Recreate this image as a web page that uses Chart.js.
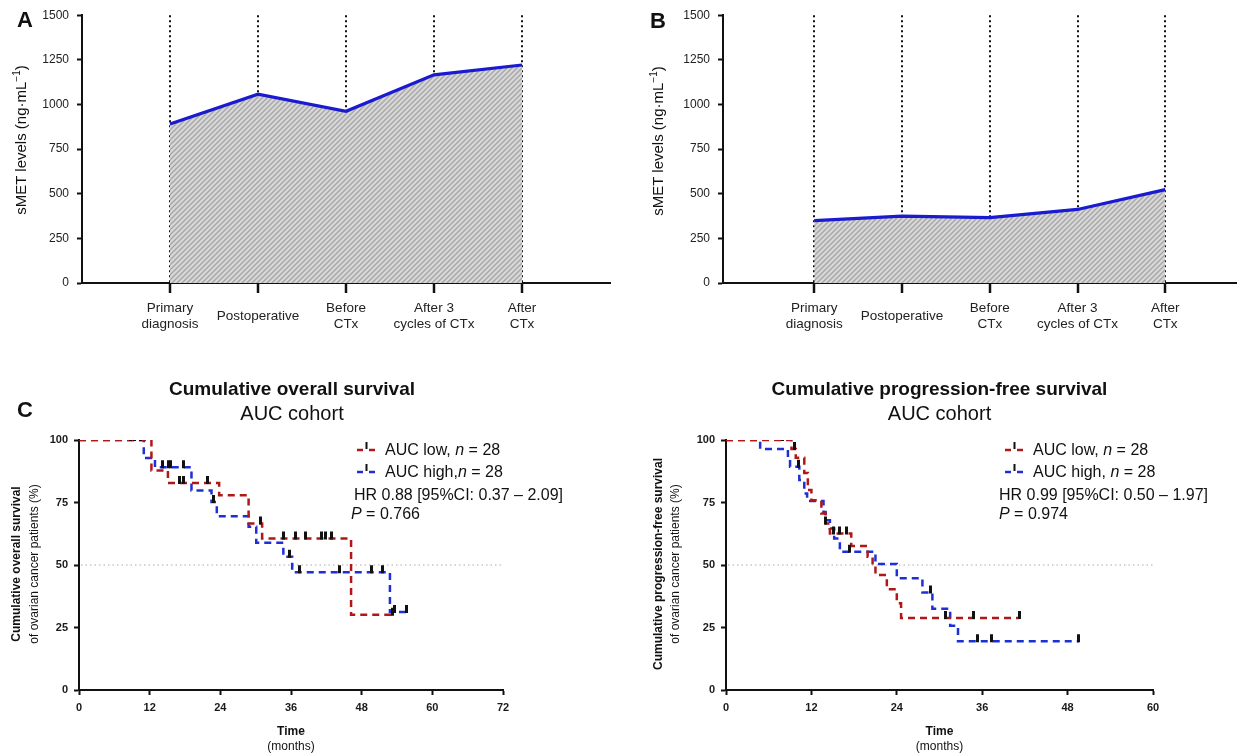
<!DOCTYPE html>
<html><head><meta charset="utf-8">
<script src="https://cdn.jsdelivr.net/npm/chart.js@4"></script>
<style>
html,body{margin:0;padding:0;background:#fff;overflow:hidden;width:1237px;height:755px;}
body{position:relative;font-family:"Liberation Sans",Arial,sans-serif;color:#111;}
canvas{position:absolute;}
.t{position:absolute;white-space:nowrap;line-height:1;}
</style></head><body>
<canvas id="cA" style="left:0;top:0" width="620" height="340"></canvas>
<canvas id="cB" style="left:620px;top:0" width="660" height="340"></canvas>
<canvas id="cC1" style="left:0;top:370px" width="620" height="385"></canvas>
<canvas id="cC2" style="left:620px;top:370px" width="617" height="385"></canvas>
<div id="txt"></div>
<script>
// ---------- DATA ----------
const timepoints = ['Primary diagnosis', 'Postoperative', 'Before CTx', 'After 3 cycles of CTx', 'After CTx'];
const timepointLabels = [['Primary','diagnosis'], 'Postoperative', ['Before','CTx'], ['After 3','cycles of CTx'], ['After','CTx']];
const smetA = [891, 1058, 962, 1166, 1221];
const smetB = [349, 375, 366, 412, 523];
const smetTicks = [0, 250, 500, 750, 1000, 1250, 1500];

const osLowTime  = [0, 12.3, 15.1, 23.8, 28.8, 31.1, 46.2, 53.2];
const osLowSurv  = [100, 87.8, 82.8, 77.9, 66.6, 60.6, 30.1, 30.1];
const osHighTime = [0, 11.0, 12.9, 19.1, 22.5, 23.4, 28.8, 30.1, 34.7, 36.2, 52.8, 55.6];
const osHighSurv = [100, 92.8, 89.1, 79.8, 75.2, 69.5, 65.3, 58.9, 53.3, 47.1, 31.2, 31.2];
const osLowCensTime  = [8.7, 10.4, 17.1, 17.7, 21.8, 30.8, 34.8, 36.8, 38.5, 41.2, 41.9, 42.9, 53.2];
const osLowCensSurv  = [100, 100, 82.8, 82.8, 82.8, 66.6, 60.6, 60.6, 60.6, 60.6, 60.6, 60.6, 30.1];
const osHighCensTime = [9.5, 14.1, 15.2, 15.6, 17.7, 22.8, 35.8, 37.5, 44.2, 49.6, 51.6, 53.5, 55.6];
const osHighCensSurv = [100, 89.1, 89.1, 89.1, 89.1, 75.2, 53.3, 47.1, 47.1, 47.1, 47.1, 31.2, 31.2];

const pfsLowTime  = [0, 9.2, 9.8, 11.0, 11.5, 12.0, 13.4, 14.0, 14.6, 17.6, 19.9, 20.6, 21.0, 22.6, 24.0, 24.6, 41.2];
const pfsLowSurv  = [100, 96.4, 92.9, 86.8, 80.0, 75.9, 70.6, 66.6, 62.6, 57.6, 53.3, 50.7, 46.0, 40.3, 34.7, 28.8, 28.8];
const pfsHighTime = [0, 4.8, 8.7, 9.0, 10.3, 11.0, 11.4, 13.7, 14.0, 14.6, 15.2, 16.0, 21.0, 24.0, 27.6, 29.0, 31.5, 32.6, 49.6];
const pfsHighSurv = [100, 96.4, 92.9, 89.3, 84.0, 78.6, 75.6, 71.2, 67.9, 64.6, 60.6, 55.3, 50.4, 44.7, 39.0, 32.5, 25.7, 19.5, 19.5];
const pfsLowCensTime  = [8.0, 9.6, 14.0, 15.1, 15.9, 17.0, 30.9, 34.8, 41.2];
const pfsLowCensSurv  = [100, 96.4, 66.6, 62.6, 62.6, 62.6, 28.8, 28.8, 28.8];
const pfsHighCensTime = [10.2, 17.4, 28.7, 35.4, 37.3, 49.6];
const pfsHighCensSurv = [89.3, 55.3, 39.0, 19.5, 19.5, 19.5];

const survTicks = [0, 25, 50, 75, 100];
const osMonthTicks = [0, 12, 24, 36, 48, 60, 72];
const pfsMonthTicks = [0, 12, 24, 36, 48, 60];
const medianRef = 50;

// ---------- STYLE ----------
const FONT = '"Liberation Sans", Arial, sans-serif';
const RED = '#b01818', BLUE = '#1f2fd8', LINEBLUE = '#1a1ad0';
Chart.defaults.font.family = FONT;
Chart.defaults.color = '#1a1a1a';

function hatch(ctx){
  const s = 5, c = document.createElement('canvas'); c.width = s; c.height = s;
  const g = c.getContext('2d');
  g.fillStyle = '#d8d8d8'; g.fillRect(0,0,s,s);
  g.strokeStyle = '#a6a6a6'; g.lineWidth = 1.4;
  g.beginPath();
  g.moveTo(0,s); g.lineTo(s,0);
  g.moveTo(-1,1); g.lineTo(1,-1);
  g.moveTo(s-1,s+1); g.lineTo(s+1,s-1);
  g.stroke();
  return ctx.createPattern(c,'repeat');
}
function censorMark(){
  const c = document.createElement('canvas'); c.width = 3; c.height = 18;
  const g = c.getContext('2d'); g.fillStyle = '#111'; g.fillRect(0,2,3,8);
  return c;
}
const CENS = censorMark();

const refLine = {
  id: 'refLine',
  beforeDatasetsDraw(chart, args, o){
    if (o.y == null) return;
    const {ctx, chartArea: a, scales: {y}} = chart;
    const py = y.getPixelForValue(o.y);
    ctx.save(); ctx.strokeStyle = '#c8c8c8'; ctx.lineWidth = 1.5; ctx.setLineDash([1.5, 3]);
    ctx.beginPath(); ctx.moveTo(a.left + 2, py); ctx.lineTo(a.right, py); ctx.stroke(); ctx.restore();
  }
};
const legendMarks = {
  id: 'legendMarks',
  afterDraw(chart, args, o){
    if (!o.items) return;
    const ctx = chart.ctx;
    o.items.forEach(it => {
      ctx.save();
      ctx.strokeStyle = it.color; ctx.lineWidth = 2.5; ctx.setLineDash([6, 6]);
      ctx.beginPath(); ctx.moveTo(it.x1, it.y); ctx.lineTo(it.x2, it.y); ctx.stroke();
      ctx.setLineDash([]); ctx.strokeStyle = '#111'; ctx.lineWidth = 2;
      const mx = (it.x1 + it.x2) / 2;
      ctx.beginPath(); ctx.moveTo(mx, it.y - 8); ctx.lineTo(mx, it.y - 1); ctx.stroke();
      ctx.restore();
    });
  }
};

function fixSize(w, h){ return s => { if (w != null) s.width = w; if (h != null) s.height = h; }; }

function smetChart(id, values, yW, padRight, xMin){
  const ctx = document.getElementById(id).getContext('2d');
  return new Chart(ctx, {
    type: 'line',
    data: { datasets: [{
      data: values.map((v, i) => ({x: i + 1, y: v})),
      borderColor: LINEBLUE, borderWidth: 3.2, pointRadius: 0, tension: 0,
      fill: 'origin', backgroundColor: hatch(ctx)
    }]},
    options: {
      responsive: false, animation: false, devicePixelRatio: 1,
      layout: { padding: {left: 0, top: 14, right: padRight, bottom: 0} },
      plugins: { legend: {display: false}, tooltip: {enabled: false} },
      scales: {
        x: {
          type: 'linear', min: xMin, max: timepoints.length + 1,
          afterBuildTicks: s => { s.ticks = timepoints.map((t, i) => ({value: i + 1})); },
          afterFit: fixSize(null, 57),
          ticks: { autoSkip: false, maxRotation: 0, padding: 15, crossAlign: 'center',
                   font: {size: 13.5}, color: '#222',
                   callback: (v, i) => timepointLabels[i] },
          grid: { drawOnChartArea: true, color: '#111', lineWidth: 2,
                  drawTicks: true, tickLength: 10, tickWidth: 2.5, tickColor: '#111' },
          border: { display: true, color: '#111', width: 2, dash: [2, 3] }
        },
        y: {
          min: 0, max: 1500,
          afterBuildTicks: s => { s.ticks = smetTicks.map(v => ({value: v})); },
          afterFit: fixSize(yW, null),
          ticks: { padding: 8, font: {size: 12}, color: '#222', callback: v => String(v) },
          grid: { drawOnChartArea: false, drawTicks: true, tickLength: 5, tickWidth: 2, tickColor: '#111' },
          border: { display: true, color: '#111', width: 2 }
        }
      }
    }
  });
}

function kmChart(id, xMax, xTicks, sets, yW, padRight, legendItems){
  const ctx = document.getElementById(id).getContext('2d');
  const ds = [];
  sets.forEach(s => {
    ds.push({ data: s.t.map((t, i) => ({x: t, y: s.s[i]})), stepped: true,
              borderColor: s.color, borderWidth: 2.5, borderDash: [7, 5],
              pointRadius: 0, fill: false, order: 2 });
  });
  sets.forEach(s => {
    ds.push({ data: s.ct.map((t, i) => ({x: t, y: s.cs[i]})), showLine: false,
              pointStyle: CENS, pointRadius: 4, order: 1 });
  });
  return new Chart(ctx, {
    type: 'line',
    data: { datasets: ds },
    options: {
      responsive: false, animation: false, devicePixelRatio: 1,
      layout: { padding: {left: 0, top: 70, right: padRight, bottom: 0} },
      plugins: { legend: {display: false}, tooltip: {enabled: false},
                 refLine: {y: medianRef}, legendMarks: {items: legendItems} },
      scales: {
        x: {
          type: 'linear', min: 0, max: xMax,
          afterBuildTicks: s => { s.ticks = xTicks.map(v => ({value: v})); },
          afterFit: fixSize(null, 65),
          ticks: { padding: 6, font: {size: 11, weight: 'bold'}, color: '#1a1a1a' },
          grid: { drawOnChartArea: false, drawTicks: true, tickLength: 5, tickWidth: 2, tickColor: '#111' },
          border: { display: true, color: '#111', width: 2 }
        },
        y: {
          min: 0, max: 100,
          afterBuildTicks: s => { s.ticks = survTicks.map(v => ({value: v})); },
          afterFit: fixSize(yW, null),
          ticks: { padding: 6, font: {size: 11, weight: 'bold'}, color: '#1a1a1a' },
          grid: { drawOnChartArea: false, drawTicks: true, tickLength: 5, tickWidth: 2, tickColor: '#111' },
          border: { display: true, color: '#111', width: 2 }
        }
      }
    },
    plugins: [refLine, legendMarks]
  });
}

smetChart('cA', smetA, 82, 10, 0);
smetChart('cB', smetB, 103, 27, -0.04);

kmChart('cC1', 72, osMonthTicks, [
  {t: osLowTime, s: osLowSurv, ct: osLowCensTime, cs: osLowCensSurv, color: RED},
  {t: osHighTime, s: osHighSurv, ct: osHighCensTime, cs: osHighCensSurv, color: BLUE}
], 79, 117, [{x1: 357, x2: 376, y: 80, color: RED}, {x1: 357, x2: 376, y: 102, color: BLUE}]);

kmChart('cC2', 60, pfsMonthTicks, [
  {t: pfsLowTime, s: pfsLowSurv, ct: pfsLowCensTime, cs: pfsLowCensSurv, color: RED},
  {t: pfsHighTime, s: pfsHighSurv, ct: pfsHighCensTime, cs: pfsHighCensSurv, color: BLUE}
], 106, 84, [{x1: 385, x2: 404, y: 80, color: RED}, {x1: 385, x2: 404, y: 102, color: BLUE}]);

// ---------- TEXT ----------
const texts = [
  // [html, x, y, css, anchor('c' centre | 'l' left), rotate]
  ['A', 25, 20, 'font-weight:bold;font-size:22px', 'c', 0],
  ['B', 658, 21, 'font-weight:bold;font-size:22px', 'c', 0],
  ['C', 25, 410, 'font-weight:bold;font-size:22px', 'c', 0],
  ['sMET levels (ng·mL<sup style="font-size:10px;vertical-align:6px">−1</sup>)', 20, 140, 'font-size:15px', 'c', -90],
  ['sMET levels (ng·mL<sup style="font-size:10px;vertical-align:6px">−1</sup>)', 657, 141, 'font-size:15px', 'c', -90],
  ['Cumulative overall survival', 292, 388, 'font-weight:bold;font-size:19px', 'c', 0],
  ['AUC cohort', 292, 413, 'font-size:20px', 'c', 0],
  ['Cumulative progression-free survival', 939.5, 388, 'font-weight:bold;font-size:19px', 'c', 0],
  ['AUC cohort', 939.5, 413, 'font-size:20px', 'c', 0],
  ['Cumulative overall survival', 16, 564, 'font-weight:bold;font-size:12px', 'c', -90],
  ['of ovarian cancer patients (%)', 34, 564, 'font-size:12px', 'c', -90],
  ['Cumulative progression-free survival', 657.5, 564, 'font-weight:bold;font-size:12px', 'c', -90],
  ['of ovarian cancer patients (%)', 675, 564, 'font-size:12px', 'c', -90],
  ['Time', 291, 731, 'font-weight:bold;font-size:12px', 'c', 0],
  ['(months)', 291, 746, 'font-size:12px', 'c', 0],
  ['Time', 939.5, 731, 'font-weight:bold;font-size:12px', 'c', 0],
  ['(months)', 939.5, 746, 'font-size:12px', 'c', 0],
  ['AUC low, <i>n</i> = 28', 385, 450, 'font-size:16px', 'l', 0],
  ['AUC high,<i>n</i> = 28', 385, 472, 'font-size:16px', 'l', 0],
  ['HR 0.88 [95%CI: 0.37 – 2.09]', 354, 495, 'font-size:16px', 'l', 0],
  ['<i>P</i> = 0.766', 351, 514, 'font-size:16px', 'l', 0],
  ['AUC low, <i>n</i> = 28', 1033, 450, 'font-size:16px', 'l', 0],
  ['AUC high, <i>n</i> = 28', 1033, 472, 'font-size:16px', 'l', 0],
  ['HR 0.99 [95%CI: 0.50 – 1.97]', 999, 495, 'font-size:16px', 'l', 0],
  ['<i>P</i> = 0.974', 999, 514, 'font-size:16px', 'l', 0]
];
const host = document.getElementById('txt');
texts.forEach(([h, x, y, css, anchor, rot]) => {
  const d = document.createElement('div');
  d.className = 't';
  d.innerHTML = h;
  d.style.cssText += css + ';left:' + x + 'px;top:' + y + 'px;transform:translate(' + (anchor === 'c' ? '-50%' : '0') + ',-50%) rotate(' + rot + 'deg);';
  host.appendChild(d);
});
</script>
</body></html>
